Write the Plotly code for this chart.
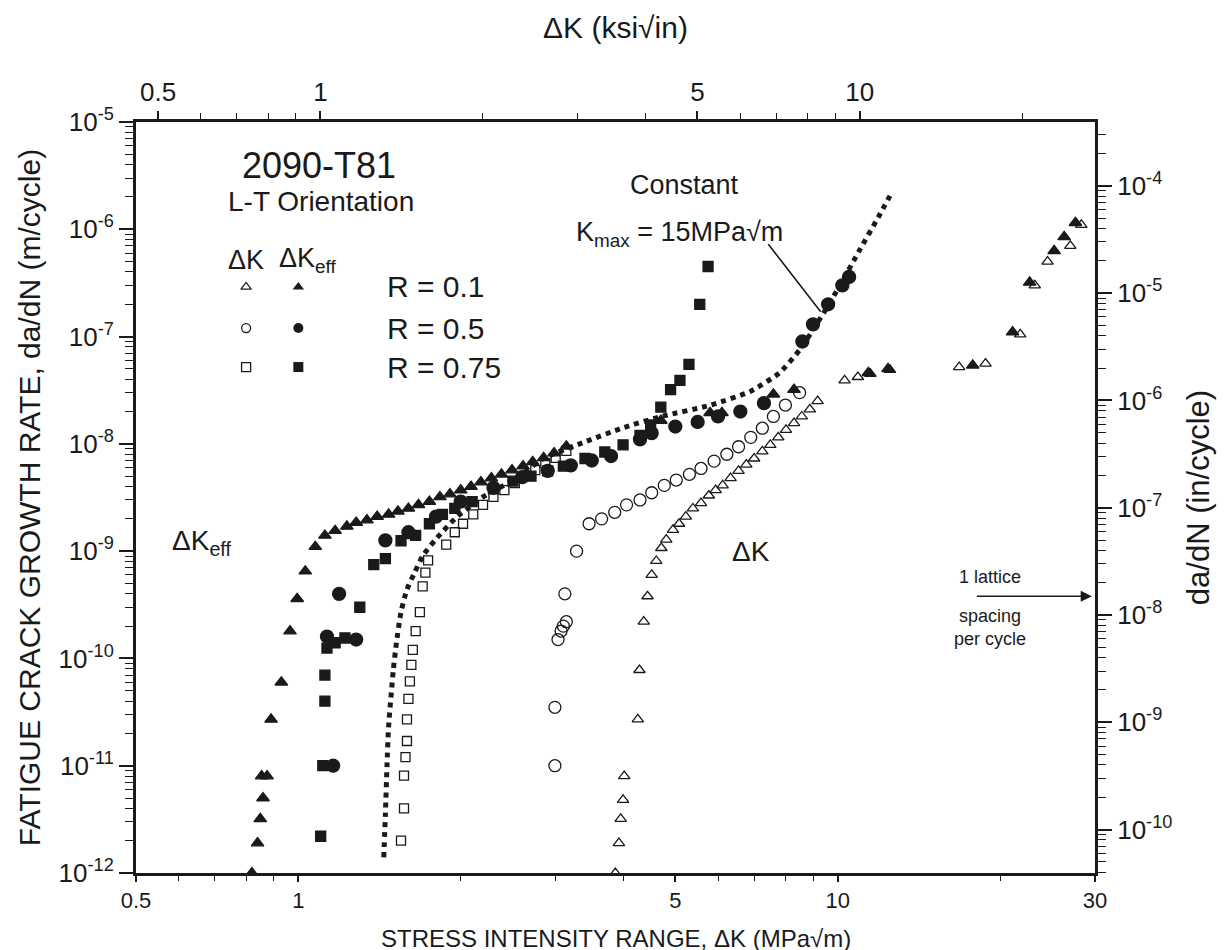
import plotly.graph_objects as go
import numpy as np

# ---------------- data (ΔK in MPa*sqrt(m), da/dN in m/cycle) ----------------
# R = 0.1, ΔKeff (filled triangles)
tri_f_K = [0.82, 0.84, 0.85, 0.86, 0.855, 0.875, 0.89, 0.93, 0.965, 0.995, 1.03, 1.075, 1.12, 1.17,
           1.23, 1.28, 1.34, 1.40, 1.47, 1.53, 1.60, 1.67, 1.75, 1.83, 1.91, 2.0, 2.09, 2.18, 2.28,
           2.38, 2.49, 2.61, 2.72, 2.85, 2.98, 3.14, 4.7, 5.8, 6.1, 7.6, 8.3, 11.4, 12.4, 17.8,
           21.1, 22.7, 25.2, 26.3, 27.6]
tri_f_da = [1.0e-12, 1.9e-12, 3.2e-12, 5e-12, 8e-12, 8e-12, 2.7e-11, 6e-11, 1.8e-10, 3.6e-10, 6.5e-10,
            1.1e-9, 1.4e-9, 1.55e-9, 1.7e-9, 1.85e-9, 1.95e-9, 2.1e-9, 2.2e-9, 2.35e-9, 2.5e-9,
            2.7e-9, 2.9e-9, 3.2e-9, 3.4e-9, 3.7e-9, 4.0e-9, 4.4e-9, 4.8e-9, 5.2e-9, 5.7e-9, 6.2e-9,
            6.8e-9, 7.4e-9, 8.2e-9, 9.5e-9, 1.65e-8, 1.95e-8, 1.95e-8, 2.9e-8, 3.2e-8, 4.6e-8, 5e-8,
            5.4e-8, 1.1e-7, 3.2e-7, 6.3e-7, 8.5e-7, 1.15e-6]

# R = 0.1, ΔK (open triangles)
tri_o_K = [3.87, 3.93, 3.96, 4.0, 4.02, 4.26, 4.29, 4.37, 4.44, 4.52, 4.61, 4.71, 4.81, 4.95, 5.08,
           5.23, 5.39, 5.58, 5.77, 5.94, 6.12, 6.33, 6.55, 6.77, 7.0, 7.25, 7.5, 7.76, 8.02, 8.3,
           8.58, 8.88, 9.18, 10.3, 10.9, 11.5, 12.5, 16.8, 18.8, 21.8, 23.2, 24.5, 27.0, 28.3]
tri_o_da = [1.0e-12, 1.9e-12, 3.2e-12, 4.8e-12, 8e-12, 2.7e-11, 7.8e-11, 2.2e-10, 3.8e-10, 6e-10,
            8.1e-10, 1.07e-9, 1.28e-9, 1.58e-9, 1.8e-9, 2.1e-9, 2.5e-9, 2.8e-9, 3.3e-9, 3.7e-9,
            4.1e-9, 4.8e-9, 5.6e-9, 6.4e-9, 7.3e-9, 8.5e-9, 9.8e-9, 1.15e-8, 1.35e-8, 1.56e-8,
            1.8e-8, 2.1e-8, 2.5e-8, 3.9e-8, 4.2e-8, 4.5e-8, 4.9e-8, 5.2e-8, 5.6e-8, 1.05e-7, 3.0e-7,
            5.0e-7, 7.0e-7, 1.1e-6]

# R = 0.5, ΔKeff (filled circles)
cir_f_K = [1.16, 1.13, 1.19, 1.28, 1.45, 1.6, 1.8, 2.0, 2.3, 2.6, 2.9, 3.2, 3.5, 3.8, 4.3, 4.52,
           5.0, 5.5, 6.0, 6.6, 7.3, 8.6, 9.0, 9.6, 10.2, 10.5]
cir_f_da = [1.0e-11, 1.6e-10, 4e-10, 1.5e-10, 1.26e-9, 1.5e-9, 2.1e-9, 2.9e-9, 3.9e-9, 4.9e-9, 5.6e-9,
            6.3e-9, 7e-9, 7.7e-9, 1.1e-8, 1.26e-8, 1.45e-8, 1.6e-8, 1.8e-8, 2.0e-8, 2.4e-8, 9e-8,
            1.3e-7, 2.0e-7, 3.0e-7, 3.6e-7]

# R = 0.5, ΔK (open circles)
cir_o_K = [2.99, 2.99, 3.03, 3.07, 3.1, 3.14, 3.12, 3.28, 3.46, 3.65, 3.86, 4.06, 4.3, 4.52, 4.77,
           5.02, 5.31, 5.58, 5.9, 6.23, 6.55, 6.9, 7.25, 7.6, 8.0, 8.5]
cir_o_da = [1.0e-11, 3.5e-11, 1.5e-10, 1.8e-10, 2.0e-10, 2.2e-10, 4e-10, 1.0e-9, 1.8e-9, 2.0e-9,
            2.3e-9, 2.7e-9, 3.0e-9, 3.5e-9, 4.1e-9, 4.6e-9, 5.2e-9, 5.9e-9, 6.9e-9, 8e-9, 9.4e-9,
            1.15e-8, 1.4e-8, 1.8e-8, 2.3e-8, 3.0e-8]

# R = 0.75, ΔKeff (filled squares)
sq_f_K = [1.10, 1.11, 1.12, 1.12, 1.13, 1.17, 1.22, 1.3, 1.38, 1.45, 1.55, 1.65, 1.75, 1.85, 1.95,
          2.1, 2.3, 2.5, 2.7, 2.9, 3.1, 3.4, 3.7, 4.0, 4.3, 4.5, 4.7, 4.9, 5.1, 5.3, 5.55, 5.75]
sq_f_da = [2.2e-12, 1.0e-11, 4e-11, 7e-11, 1.25e-10, 1.4e-10, 1.55e-10, 3e-10, 7.5e-10, 8.5e-10,
           1.25e-9, 1.4e-9, 1.8e-9, 2.2e-9, 2.5e-9, 2.9e-9, 3.8e-9, 4.5e-9, 5e-9, 5.6e-9, 6.2e-9,
           7.3e-9, 8.4e-9, 9.8e-9, 1.2e-8, 1.5e-8, 2.2e-8, 3.2e-8, 3.9e-8, 5.5e-8, 2.0e-7, 4.5e-7]

# R = 0.75, ΔK (open squares)
sq_o_K = [1.55, 1.57, 1.57, 1.58, 1.59, 1.59, 1.6, 1.61, 1.62, 1.63, 1.65, 1.68, 1.70, 1.72, 1.74,
          1.88, 1.95, 2.02, 2.11, 2.2, 2.3, 2.41, 2.52, 2.63, 2.75, 2.87, 3.0, 3.14]
sq_o_da = [2.0e-12, 4e-12, 8.1e-12, 1.2e-11, 1.7e-11, 2.7e-11, 4.2e-11, 6.1e-11, 8.7e-11, 1.2e-10,
           1.8e-10, 2.7e-10, 4.7e-10, 6.3e-10, 8.2e-10, 1.15e-9, 1.5e-9, 1.8e-9, 2.2e-9, 2.7e-9,
           3.2e-9, 3.7e-9, 4.3e-9, 5.0e-9, 5.7e-9, 6.6e-9, 7.4e-9, 8.6e-9]

# Constant Kmax = 15 MPa*sqrt(m) (dotted curve)
kmax_K = [1.44, 1.45, 1.46, 1.47, 1.5, 1.52, 1.55, 1.59, 1.64, 1.7, 1.8, 1.97, 2.2, 2.54, 2.85,
          3.41, 3.98, 4.71, 5.82, 6.9, 7.8, 8.5, 9.3, 10.1, 11.0, 11.9, 12.6]
kmax_da = [1.4e-12, 3.5e-12, 1e-11, 2.3e-11, 7.8e-11, 1.4e-10, 2.7e-10, 4.4e-10, 6.2e-10, 9e-10,
           1.3e-9, 2.1e-9, 3.2e-9, 4.8e-9, 7.3e-9, 1.05e-8, 1.4e-8, 1.8e-8, 2.3e-8, 3.1e-8, 4.6e-8,
           7.5e-8, 1.5e-7, 3.0e-7, 6.5e-7, 1.3e-6, 2.2e-6]

x_ticks = [0.5, 1, 5, 10, 30]
ksi_ticks = [0.5, 1, 5, 10]
ym_exp = [-5, -6, -7, -8, -9, -10, -11, -12]
yin_exp = [-4, -5, -6, -7, -8, -9, -10]
lattice_da = 3.8e-10

MPA_PER_KSI = 1.0988
M_PER_IN = 0.0254

FONT = "Liberation Sans, Arial, sans-serif"
INK = "#1a1a1a"
TICKF = 26

fig = go.Figure()

def add(K, da, symbol, size):
    fig.add_trace(go.Scatter(x=K, y=da, mode="markers", showlegend=False,
                             marker=dict(symbol=symbol, size=size, color=INK,
                                         line=dict(color=INK, width=1.3))))

fig.add_trace(go.Scatter(x=kmax_K, y=kmax_da, mode="lines", showlegend=False,
                         line=dict(color=INK, width=5, dash="dot", shape="spline", smoothing=0.6)))
add(tri_f_K, tri_f_da, "triangle-up", 11)
add(tri_o_K, tri_o_da, "triangle-up-open", 10)
add(cir_f_K, cir_f_da, "circle", 13)
add(cir_o_K, cir_o_da, "circle-open", 12)
add(sq_f_K, sq_f_da, "square", 10)
add(sq_o_K, sq_o_da, "square-open", 9)

x0, x1 = np.log10(0.5), np.log10(30)
y0, y1 = -12, -5

minor_x = [0.6, 0.7, 0.8, 0.9, 2, 3, 4, 6, 7, 8, 9, 20]
minor_ksi = [0.6, 0.7, 0.8, 0.9, 2, 3, 4, 6, 7, 8, 9, 20]

def sup(e):
    return "10<sup>%d</sup>" % e

common = dict(type="log", ticks="outside", tickwidth=1.5, tickcolor=INK, showline=True,
              linewidth=3, linecolor=INK, showgrid=False, zeroline=False, automargin=False,
              tickfont=dict(size=TICKF, family=FONT, color=INK))

fig.update_layout(
    width=1225, height=950,
    paper_bgcolor="white", plot_bgcolor="white",
    margin=dict(l=128, r=138, t=114, b=85),
    font=dict(family=FONT, color=INK, size=22),
    xaxis=dict(**common, range=[x0, x1], tickvals=x_ticks, ticktext=[str(v) for v in x_ticks],
               ticklen=6,
               minor=dict(tickvals=minor_x, ticks="outside", ticklen=5, tickwidth=1.2, tickcolor=INK)),
    yaxis=dict(**common, range=[y0, y1], tickvals=[10.0 ** e for e in ym_exp],
               ticktext=[sup(e) for e in ym_exp], ticklen=14,
               minor=dict(ticks="outside", ticklen=8, tickwidth=1.2, tickcolor=INK, dtick="D1"),
               title=dict(text="FATIGUE CRACK GROWTH RATE, da/dN (m/cycle)", font=dict(size=30),
                          standoff=10)),
    xaxis2=dict(**common, range=[x0 - np.log10(MPA_PER_KSI), x1 - np.log10(MPA_PER_KSI)],
                overlaying="x", side="top", tickvals=ksi_ticks, ticktext=[str(v) for v in ksi_ticks],
                ticklen=8,
                minor=dict(tickvals=minor_ksi, ticks="outside", ticklen=6, tickwidth=1.2,
                           tickcolor=INK),
                title=dict(text="ΔK (ksi√in)", font=dict(size=30), standoff=30)),
    yaxis2=dict(**common, range=[y0 - np.log10(M_PER_IN), y1 - np.log10(M_PER_IN)],
                overlaying="y", side="right", tickvals=[10.0 ** e for e in yin_exp],
                ticktext=[sup(e) for e in yin_exp], ticklen=14,
                minor=dict(ticks="outside", ticklen=8, tickwidth=1.2, tickcolor=INK, dtick="D1"),
                title=dict(text="da/dN (in/cycle)", font=dict(size=31), standoff=16)),
)
fig.layout.xaxis.tickfont.size = 22

# bottom axis title placed explicitly so it stays inside the page
fig.add_annotation(x=0.5, y=-0.066, xref="paper", yref="paper", yanchor="top",
                   text="STRESS INTENSITY RANGE, ΔK (MPa√m)", showarrow=False,
                   font=dict(size=24, family=FONT, color=INK))

fig.add_trace(go.Scatter(x=[1], y=[1e-8], xaxis="x2", yaxis="y", mode="markers",
                         marker=dict(opacity=0), showlegend=False, hoverinfo="skip"))
fig.add_trace(go.Scatter(x=[1], y=[1e-8], xaxis="x", yaxis="y2", mode="markers",
                         marker=dict(opacity=0), showlegend=False, hoverinfo="skip"))

# ---------------- annotations ----------------
def txt(x, y, text, size=22, xanchor="center", yshift=0):
    fig.add_annotation(x=np.log10(x), y=np.log10(y), xref="x", yref="y", text=text,
                       showarrow=False, font=dict(size=size, family=FONT, color=INK),
                       xanchor=xanchor, yshift=yshift)

txt(1.09, 3.9e-6, "2090-T81", 36)
txt(1.1, 1.8e-6, "L-T Orientation", 28)
txt(0.8, 5.2e-7, "ΔK", 27)
txt(1.04, 5.2e-7, "ΔK<sub>eff</sub>", 27)
leg_y = [2.9e-7, 1.2e-7, 5.2e-8]
for yv, r in zip(leg_y, ["R = 0.1", "R = 0.5", "R = 0.75"]):
    txt(1.45, yv, r, 30, xanchor="left")
fig.add_trace(go.Scatter(x=[0.8, 0.8, 0.8], y=leg_y, mode="markers",
                         marker=dict(symbol=["triangle-up-open", "circle-open", "square-open"],
                                     size=9, color=INK, line=dict(color=INK, width=1.3)),
                         showlegend=False))
fig.add_trace(go.Scatter(x=[1.0, 1.0, 1.0], y=leg_y, mode="markers",
                         marker=dict(symbol=["triangle-up", "circle", "square"], size=10, color=INK),
                         showlegend=False))

txt(0.66, 1.2e-9, "ΔK<sub>eff</sub>", 28)
txt(6.9, 1.0e-9, "ΔK", 28)
txt(5.2, 2.6e-6, "Constant", 27)
txt(5.1, 9e-7, "K<sub>max</sub> = 15MPa√m", 27)
fig.add_annotation(x=np.log10(9.3), y=np.log10(1.7e-7), ax=np.log10(7.4), ay=np.log10(7.5e-7),
                   xref="x", yref="y", axref="x", ayref="y", showarrow=True, arrowhead=0,
                   arrowwidth=1.6, arrowcolor=INK, text="")
txt(19.2, lattice_da, "1 lattice", 18, yshift=19)
txt(19.2, lattice_da, "spacing<br>per cycle", 18, yshift=-31)
fig.add_annotation(x=np.log10(29.6), y=np.log10(lattice_da), ax=np.log10(18.0),
                   ay=np.log10(lattice_da), xref="x", yref="y", axref="x", ayref="y",
                   showarrow=True, arrowhead=2, arrowsize=1.4, arrowwidth=1.6, arrowcolor=INK,
                   text="")

fig.write_html("out.html")
